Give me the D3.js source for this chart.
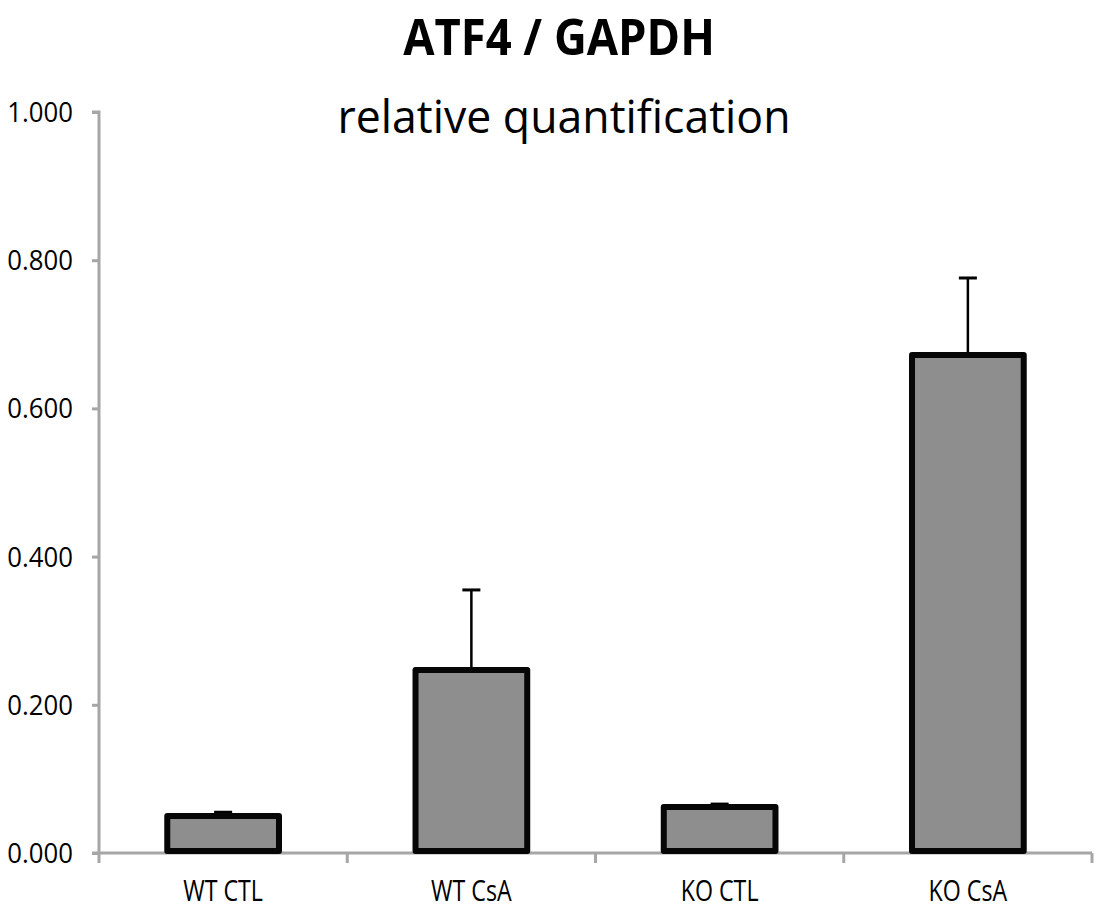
<!DOCTYPE html>
<html>
<head>
<meta charset="utf-8">
<script src="https://cdn.jsdelivr.net/npm/d3@7"></script>
<style>
  body { margin: 0; background: #fff; }
  text { font-family: "Open Sans", "Liberation Sans", sans-serif; }
</style>
</head>
<body>
<script>
const width = 1096;
const height = 914;

const categories = ['WT CTL', 'WT CsA', 'KO CTL', 'KO CsA'];
const values = [0.050, 0.247, 0.062, 0.672];
const errors = [0.005, 0.108, 0.004, 0.104];
const yTicks = [0, 0.2, 0.4, 0.6, 0.8, 1.0];

const margin = { top: 112, right: 4, bottom: 61, left: 99 };

const svg = d3.select('body')
  .append('svg')
  .attr('width', width)
  .attr('height', height);

const x = d3.scaleBand()
  .domain(categories)
  .range([margin.left, width - margin.right])
  .paddingInner(0.55)
  .paddingOuter(0.275);

const y = d3.scaleLinear()
  .domain([0, 1])
  .range([height - margin.bottom, margin.top]);

const axisColor = '#a6a6a6';
const fmt = d3.format('.3f');

// y axis
const yAxis = svg.append('g')
  .attr('transform', `translate(${margin.left},0)`)
  .call(d3.axisLeft(y).tickValues(yTicks).tickFormat('').tickSize(7));
yAxis.select('.domain').attr('stroke', axisColor).attr('stroke-width', 3)
  .attr('d', `M-7,${y(1)}H0V${y(0)}`);
yAxis.selectAll('.tick line').attr('stroke', axisColor).attr('stroke-width', 3);

// tick labels, slightly condensed like the original
svg.append('g')
  .selectAll('text')
  .data(yTicks)
  .join('text')
  .attr('transform', d => `translate(73,${y(d) + 10}) scale(0.92,1)`)
  .attr('text-anchor', 'end')
  .attr('font-size', 28)
  .text(d => fmt(d));

// x axis
const boundaries = d3.range(categories.length + 1).map(i => margin.left + i * ((width - margin.right - margin.left) / categories.length));
const xAxis = svg.append('g');
xAxis.append('line')
  .attr('x1', margin.left - 7).attr('x2', width - margin.right)
  .attr('y1', y(0)).attr('y2', y(0))
  .attr('stroke', axisColor).attr('stroke-width', 3);
xAxis.selectAll('line.tick')
  .data(boundaries)
  .join('line')
  .attr('class', 'tick')
  .attr('x1', d => d).attr('x2', d => d)
  .attr('y1', y(0)).attr('y2', y(0) + 10)
  .attr('stroke', axisColor).attr('stroke-width', 3);
xAxis.selectAll('text')
  .data(categories)
  .join('text')
  .attr('transform', d => `translate(${x(d) + x.bandwidth() / 2},901) scale(0.8,1)`)
  .attr('text-anchor', 'middle')
  .attr('font-size', 29)
  .text(d => d);

// error bars (drawn under the bars)
const errG = svg.append('g').attr('stroke', '#000').attr('stroke-width', 2.5);
categories.forEach((c, i) => {
  const cx = x(c) + x.bandwidth() / 2;
  errG.append('line')
    .attr('x1', cx).attr('x2', cx)
    .attr('y1', y(values[i])).attr('y2', y(values[i] + errors[i]));
  errG.append('line')
    .attr('x1', cx - 9).attr('x2', cx + 9)
    .attr('y1', y(values[i] + errors[i])).attr('y2', y(values[i] + errors[i]))
    .attr('stroke-width', 3);
});

// bars
svg.append('g')
  .selectAll('rect')
  .data(categories)
  .join('rect')
  .attr('x', d => x(d))
  .attr('y', (d, i) => y(values[i]))
  .attr('width', x.bandwidth())
  .attr('height', (d, i) => y(0) - y(values[i]) - 2)
  .attr('fill', '#8e8e8e')
  .attr('stroke', '#060606')
  .attr('stroke-width', 6)
  .attr('stroke-linejoin', 'round');

// titles
svg.append('text')
  .attr('transform', 'translate(559,55) scale(0.89,1)')
  .attr('text-anchor', 'middle')
  .attr('font-size', 51)
  .attr('font-weight', 'bold')
  .text('ATF4 / GAPDH');

svg.append('text')
  .attr('transform', 'translate(564,133) scale(0.97,1)')
  .attr('text-anchor', 'middle')
  .attr('font-size', 46)
  .text('relative quantification');
</script>
</body>
</html>
